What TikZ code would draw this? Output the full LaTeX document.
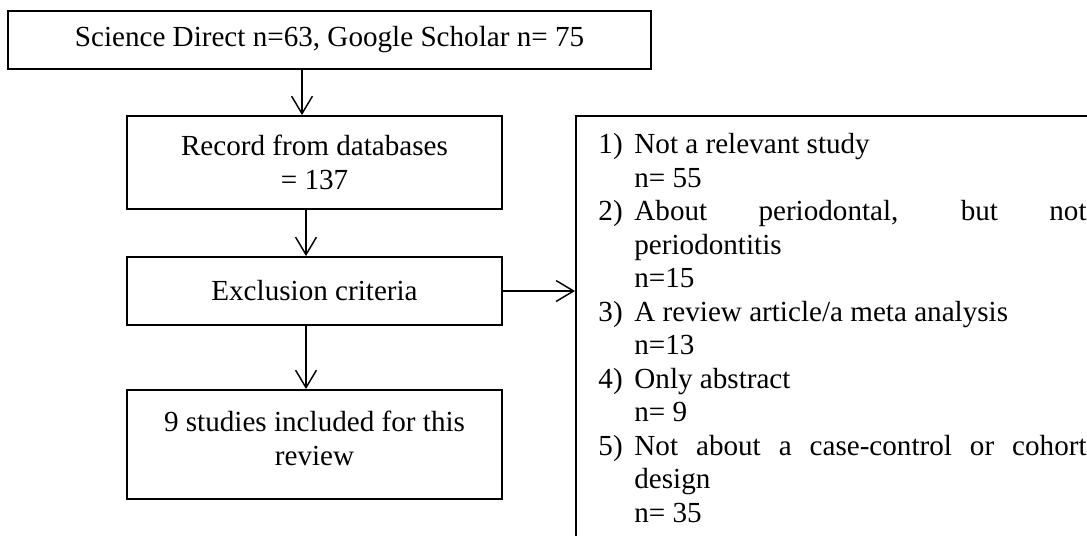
\documentclass[tikz,border=0pt]{standalone}
\usepackage{fontspec}
\setmainfont{Liberation Serif}
\usetikzlibrary{arrows.meta}

\tikzset{
	box/.style={draw, line width=0.8pt, align=center, font=\fontsize{12}{13.8}\selectfont},
	flow/.style={-{Straight Barb[length=7.2pt,width=8.6pt]}, line width=0.6pt},
}
% one numbered reason, and the count line under it
\newcommand{\reasonitem}[2]{\par\noindent\hangindent=14.8pt\hangafter=1\makebox[14.8pt][l]{#1}#2}
\newcommand{\reasoncount}[1]{\par\noindent\hspace*{14.8pt}#1}

\begin{document}
\begin{tikzpicture}[x=0.412pt, y=-0.412pt]
		\useasboundingbox (0,0) rectangle (1087,535);
		\clip (0,0) rectangle (1087,535);

		% Define search, records, exclusion, included
		\node[box, minimum width=264.9pt, minimum height=23.9pt] (Search) at (329.5,40) {Science Direct n=63, Google Scholar n= 75};
		\node[box, minimum width=154.5pt, minimum height=38.3pt] (Records) at (314.5,162.5) {Record from databases\\= 137};
		\node[box, minimum width=154.5pt, minimum height=28pt] (Exclusion) at (314.5,291) {Exclusion criteria};
		\node[box, minimum width=154.5pt, minimum height=44.9pt, text depth=5pt] (Included) at (314.5,444.5) {9 studies included for this\\review};

		\coordinate (SpineA) at (302,0);
		\coordinate (SpineB) at (306,0);
		\draw[flow] (Search.south -| SpineA) -- (Records.north -| SpineA);
		\draw[flow] (Records.south -| SpineB) -- (Exclusion.north -| SpineB);
		\draw[flow] (Exclusion.south -| SpineB) -- (Included.north -| SpineB);

		% reasons for exclusion
		\node[draw, line width=0.8pt, anchor=north west, inner sep=0, minimum width=224.5pt, minimum height=183.3pt] (ListBox) at (575,115) {};
		\node[anchor=north west, inner sep=0, text width=201.1pt, align=justify, font=\fontsize{12}{13.8}\selectfont] (Reasons) at (598,120) {%
			\lineskiplimit=-20pt\relax\parskip=0pt\relax
			\reasonitem{1)}{Not a relevant study}
			\reasoncount{n= 55}
			\reasonitem{2)}{About periodontal, but not\linebreak periodontitis}
			\reasoncount{n=15}
			\reasonitem{3)}{A review article/a meta analysis}
			\reasoncount{n=13}
			\reasonitem{4)}{Only abstract}
			\reasoncount{n= 9}
			\reasonitem{5)}{Not about a case-control or cohort\linebreak design}
			\reasoncount{n= 35}\par};
		\draw[flow] (Exclusion.east) -- (Exclusion.east -| ListBox.west);

	\end{tikzpicture}
\end{document}
